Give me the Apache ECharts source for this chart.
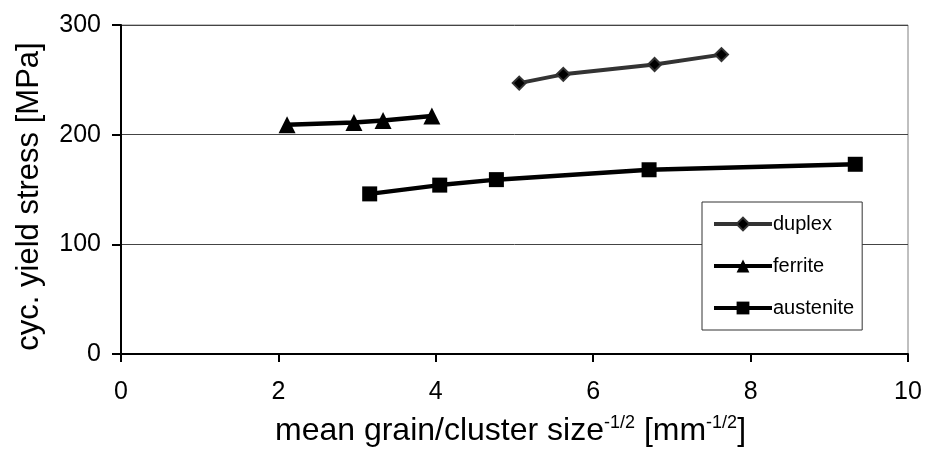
<!DOCTYPE html>
<html>
<head>
<meta charset="utf-8">
<script src="https://cdn.jsdelivr.net/npm/echarts@6/dist/echarts.min.js"></script>
<style>html,body{margin:0;padding:0;background:#fff}#c{width:929px;height:452px}</style>
</head>
<body>
<div id="c"></div>
<script>
const duplexX = [5.06, 5.62, 6.78, 7.63];
const duplexY = [247, 255, 264, 273];
const ferriteX = [2.11, 2.96, 3.33, 3.95];
const ferriteY = [209, 211, 213, 217];
const austeniteX = [3.16, 4.05, 4.77, 6.71, 9.33];
const austeniteY = [146, 154, 159, 168, 173];
const xTicks = [0, 2, 4, 6, 8, 10];
const yTicks = [0, 100, 200, 300];

const pairs = (xs, ys) => xs.map((x, i) => [x, ys[i]]);
const font = '"Liberation Sans", Arial, sans-serif';

const chart = echarts.init(document.getElementById('c'), null, {renderer: 'canvas'});
chart.setOption({
  animation: false,
  backgroundColor: '#fff',
  grid: {left: 121, right: 21, top: 25, bottom: 98, show: true, borderColor: '#808080', borderWidth: 1},
  xAxis: {
    type: 'value', min: xTicks[0], max: xTicks[xTicks.length - 1], interval: 2,
    name: 'mean grain/cluster size{sup|-1/2} [mm{sup|-1/2}]',
    nameLocation: 'middle', nameGap: 60,
    nameTextStyle: {fontFamily: font, fontSize: 32, color: '#000', padding: [0, 8, 0, 0],
      rich: {sup: {fontFamily: font, fontSize: 18, color: '#000', verticalAlign: 'top', padding: [0, 0, 16, 0]}}},
    axisLine: {lineStyle: {color: '#000', width: 2}},
    axisTick: {show: true, length: 8, inside: false, lineStyle: {color: '#000', width: 2}},
    axisLabel: {fontFamily: font, fontSize: 25, color: '#000', margin: 26},
    splitLine: {show: false}
  },
  yAxis: {
    type: 'value', min: yTicks[0], max: yTicks[yTicks.length - 1], interval: 100,
    name: 'cyc. yield stress [MPa]', nameLocation: 'middle', nameGap: 76,
    nameTextStyle: {fontFamily: font, fontSize: 31, color: '#000', padding: [0, 14, 0, 0]},
    axisLine: {show: true, lineStyle: {color: '#000', width: 2}},
    axisTick: {show: true, length: 9, inside: false, lineStyle: {color: '#000', width: 2}},
    axisLabel: {fontFamily: font, fontSize: 25, color: '#000', margin: 20},
    splitLine: {show: true, lineStyle: {color: '#444', width: 1}}
  },
  legend: {
    orient: 'vertical', left: 702, top: 202, width: 140,
    padding: [12, 8, 12, 10], itemGap: 22, itemWidth: 58, itemHeight: 16,
    backgroundColor: '#fff', borderColor: '#333', borderWidth: 1, borderRadius: 0,
    textStyle: {fontFamily: font, fontSize: 20, color: '#000', padding: [0, 0, 0, -4]},
    lineStyle: {width: 4},
    data: ['duplex', 'ferrite', 'austenite']
  },
  series: [
    {name: 'duplex', type: 'line', data: pairs(duplexX, duplexY), symbol: 'diamond', symbolSize: 13,
      lineStyle: {color: '#333', width: 4}, itemStyle: {color: '#000', borderColor: '#333', borderWidth: 2}},
    {name: 'ferrite', type: 'line', data: pairs(ferriteX, ferriteY), symbol: 'triangle', symbolSize: 17,
      lineStyle: {color: '#000', width: 4.5}, itemStyle: {color: '#000'}},
    {name: 'austenite', type: 'line', data: pairs(austeniteX, austeniteY), symbol: 'rect', symbolSize: 15,
      lineStyle: {color: '#000', width: 4.5}, itemStyle: {color: '#000'}}
  ]
});
</script>
</body>
</html>
